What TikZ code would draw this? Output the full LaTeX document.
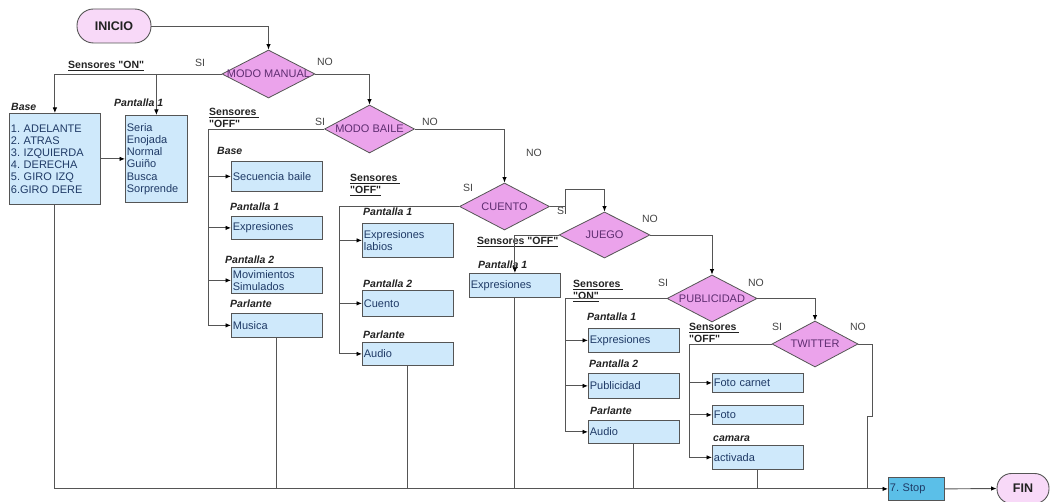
\documentclass[tikz,border=0pt]{standalone}
\usepackage{fontspec}
\setmainfont{Liberation Sans}[Ligatures=TeXOff]
\usetikzlibrary{arrows.meta,shapes.geometric,calc}
\definecolor{lnc}{HTML}{555555}
\definecolor{boxc}{HTML}{CFE9FB}
\definecolor{stopc}{HTML}{5BBFE8}
\definecolor{dmc}{HTML}{EBA3EB}
\definecolor{pillc}{HTML}{F8D9F8}
\definecolor{navyc}{HTML}{1F3A66}
\definecolor{purpc}{HTML}{5E2D70}
\definecolor{lblc}{HTML}{444444}
\definecolor{hdc}{HTML}{222222}
\newcommand{\qq}{\symbol{34}}
\frenchspacing
\begin{document}
\begin{tikzpicture}[x=1pt,y=-1pt,
  line/.style={draw=lnc,line width=0.9pt},
  arr/.style={line,-{Latex[length=5.5pt,width=4.5pt,color=black]}},
  box/.style={draw=lnc,line width=0.8pt,fill=boxc,text=navyc,font=\fontsize{11}{12.2}\selectfont,align=left,inner xsep=1.5pt,inner ysep=0pt,anchor=north west},
  dmd/.style={diamond,draw=lnc,line width=0.8pt,fill=dmc,inner sep=0pt},
  dlab/.style={text=purpc,font=\fontsize{11}{13}\selectfont,inner sep=0pt},
  pill/.style={draw=lnc,line width=0.9pt,fill=pillc,text=hdc,font=\fontsize{12.5}{14}\selectfont\bfseries,inner sep=0pt},
  yn/.style={text=lblc,font=\fontsize{10.5}{12}\selectfont,inner sep=0pt},
  hd/.style={text=hdc,font=\fontsize{10.5}{12}\selectfont\bfseries\itshape,inner sep=0pt,anchor=west},
  sens/.style={text=hdc,font=\fontsize{10.5}{12}\selectfont\bfseries,inner sep=0pt,anchor=west,align=left}
]
\useasboundingbox (0,0) rectangle (1053,502);

% start / end
\node[pill,rounded corners=16.5pt,minimum width=74pt,minimum height=34pt] (inicio) at (114,26) {INICIO};
\node[pill,rounded corners=14.5pt,minimum width=52pt,minimum height=30pt] (fin) at (1023,488.5) {FIN};

% decisions
\node[dmd,minimum width=93pt,minimum height=48pt,label={[dlab]center:MODO MANUAL}] (mm) at (268.5,74) {};
\node[dmd,minimum width=90pt,minimum height=48pt,label={[dlab]center:MODO BAILE}] (mb) at (369.5,129) {};
\node[dmd,minimum width=90pt,minimum height=47pt,label={[dlab]center:CUENTO}] (cu) at (504.5,206.5) {};
\node[dmd,minimum width=91pt,minimum height=46pt,label={[dlab]center:JUEGO}] (ju) at (604.5,235) {};
\node[dmd,minimum width=90pt,minimum height=47pt,label={[dlab]center:PUBLICIDAD}] (pu) at (712,298.5) {};
\node[dmd,minimum width=86pt,minimum height=46pt,label={[dlab]center:TWITTER}] (tw) at (815,344) {};

% manual
\node[box,text width=88pt,minimum height=91pt] (base) at (9,113) {1. ADELANTE\\2. ATRAS\\3. IZQUIERDA\\4. DERECHA\\5. GIRO IZQ\\6.GIRO DERE};
\node[box,text width=59pt,minimum height=87pt] (pt1) at (125,115) {Seria\\Enojada\\Normal\\Guiño\\Busca\\Sorprende};

% baile
\node[box,text width=88pt,minimum height=30pt] (sec) at (231,161) {Secuencia baile};
\node[box,text width=88pt,minimum height=23pt] (bexp) at (231,216) {Expresiones};
\node[box,text width=88pt,minimum height=26pt] (mov) at (231,267) {Movimientos\\Simulados};
\node[box,text width=88pt,minimum height=24pt] (mus) at (231,313) {Musica};

% cuento
\node[box,text width=88pt,minimum height=34pt] (lab) at (362,223) {Expresiones\\labios};
\node[box,text width=88pt,minimum height=26pt] (cbx) at (362,290) {Cuento};
\node[box,text width=88pt,minimum height=23pt] (cau) at (362,342) {Audio};

% juego
\node[box,text width=88pt,minimum height=24pt] (jexp) at (469,273) {Expresiones};

% publicidad
\node[box,text width=88pt,minimum height=24pt] (pexp) at (588,328) {Expresiones};
\node[box,text width=88pt,minimum height=25pt] (ppub) at (588,373) {Publicidad};
\node[box,text width=88pt,minimum height=23pt] (pau) at (588,420) {Audio};

% twitter
\node[box,text width=88pt,minimum height=19pt] (fc) at (712,373) {Foto carnet};
\node[box,text width=88pt,minimum height=19pt] (fo) at (712,405) {Foto};
\node[box,text width=88pt,minimum height=24pt] (act) at (712,445) {activada};

% stop
\node[box,fill=stopc,text width=53pt,minimum height=23pt] (stop) at (888,477) {7. Stop};

% labels
\node[yn] (l1) at (200,63) {SI};
\node[yn] (l2) at (325,62) {NO};
\node[sens] (s1) at (68,66) {\underline{Sensores \qq ON\qq}};
\node[hd] (h1) at (11,107) {Base};
\node[hd] (h2) at (114,103) {Pantalla 1};

\node[yn] (l3) at (320,122) {SI};
\node[yn] (l4) at (430,122) {NO};
\node[sens] (s2) at (209,119) {\underline{Sensores\ }\\\underline{\qq OFF\qq}};
\node[hd] (h3) at (217,151) {Base};
\node[hd] (h4) at (230,207) {Pantalla 1};
\node[hd] (h5) at (225,260) {Pantalla 2};
\node[hd] (h6) at (230,304) {Parlante};
\node[yn] (l5) at (534,153) {NO};

\node[yn] (l6) at (468,188) {SI};
\node[sens] (s3) at (350,185) {\underline{Sensores\ }\\\underline{\qq OFF\qq}};
\node[yn] (l7) at (562,211) {SI};
\node[hd] (h7) at (363,212) {Pantalla 1};
\node[hd] (h8) at (363,284) {Pantalla 2};
\node[hd] (h9) at (363,335) {Parlante};

\node[yn] (l8) at (650,219) {NO};
\node[sens] (s4) at (477,242) {\underline{Sensores \qq OFF\qq}};
\node[hd] (h10) at (478,265) {Pantalla 1};

\node[yn] (l9) at (663,283) {SI};
\node[yn] (l10) at (756,283) {NO};
\node[sens] (s5) at (573,291) {\underline{Sensores\ }\\\underline{\qq ON\qq}};
\node[hd] (h11) at (587,317) {Pantalla 1};
\node[hd] (h12) at (589,364) {Pantalla 2};
\node[hd] (h13) at (590,411) {Parlante};

\node[yn] (l11) at (777,327) {SI};
\node[yn] (l12) at (858,327) {NO};
\node[sens] (s6) at (689,334) {\underline{Sensores\ }\\\underline{\qq OFF\qq}};
\node[hd] (h14) at (713,439) {camara};

% coordinates
\coordinate (mbx) at (208,129);
\coordinate (cux) at (339,206.5);
\coordinate (cj1) at (565,206.5);
\coordinate (cj2) at (604.5,189);
\coordinate (pux) at (565,298.5);
\coordinate (twx) at (689,344);
\coordinate (tj1) at (872,416);
\coordinate (tj2) at (867,416);

% connectors
\draw[arr] (inicio.east) -| (mm.north);
\draw[arr] (mm.west) -| (base.north);
\draw[arr] (pt1.north |- mm.west) -- (pt1.north);
\draw[arr] (base.east) -- (pt1.west);

\draw[arr] (mm.east) -| (mb.north);
\draw[arr] (mb.west) -- (mbx) |- (mus.west);
\draw[arr] (mbx |- sec.west) -- (sec.west);
\draw[arr] (mbx |- bexp.west) -- (bexp.west);
\draw[arr] (mbx |- mov.west) -- (mov.west);

\draw[arr] (mb.east) -| (cu.north);
\draw[arr] (cu.west) -- (cux) |- (cau.west);
\draw[arr] (cux |- lab.west) -- (lab.west);
\draw[arr] (cux |- cbx.west) -- (cbx.west);

\draw[arr] (cu.east) -- (cj1) |- (cj2) -- (ju.north);
\draw[arr] (ju.west) -| (jexp.north);
\draw[arr] (ju.east) -| (pu.north);

\draw[arr] (pu.west) -- (pux) |- (pau.west);
\draw[arr] (pux |- pexp.west) -- (pexp.west);
\draw[arr] (pux |- ppub.west) -- (ppub.west);

\draw[arr] (pu.east) -| (tw.north);
\draw[arr] (tw.west) -- (twx) |- (act.west);
\draw[arr] (twx |- fc.west) -- (fc.west);
\draw[arr] (twx |- fo.west) -- (fo.west);

\draw[line] (tw.east) -| (tj1) -- (tj2) -- (tj2 |- stop.west);

\draw[arr] (base.south) |- (stop.west);
\draw[line] (mus.south) -- (mus.south |- stop.west);
\draw[line] (cau.south) -- (cau.south |- stop.west);
\draw[line] (jexp.south) -- (jexp.south |- stop.west);
\draw[line] (pau.south) -- (pau.south |- stop.west);
\draw[line] (act.south) -- (act.south |- stop.west);
\draw[arr] (stop.east) -- (fin.west);
\end{tikzpicture}
\end{document}
